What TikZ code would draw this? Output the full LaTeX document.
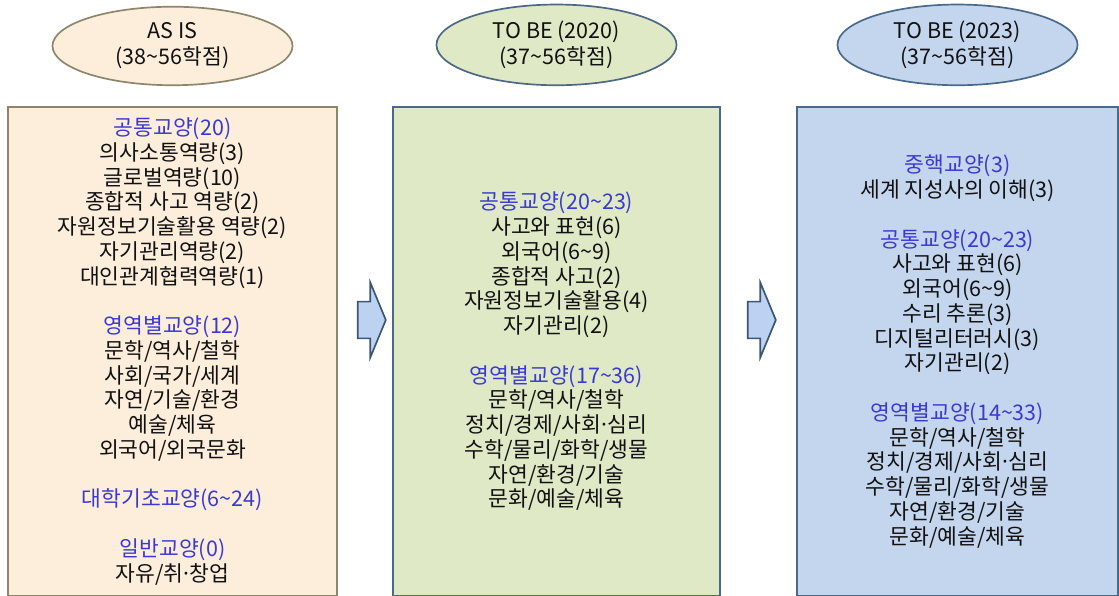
\documentclass[tikz,border=0pt]{standalone}
\usepackage{fontspec}
\newfontfamily\kr{Noto Sans CJK KR}
\usepackage{tikz}
\usetikzlibrary{shapes,arrows}
\usetikzlibrary{positioning, shapes.geometric, shapes.arrows}
\usepackage{xcolor}
\definecolor{peach}{HTML}{FDEEDC}
\definecolor{peachline}{HTML}{8C876A}
\definecolor{sage}{HTML}{DFE9C6}
\definecolor{sageline}{HTML}{4D6884}
\definecolor{sky}{HTML}{C4D6EE}
\definecolor{skyline}{HTML}{4A6A8C}
\definecolor{arrfill}{HTML}{BCD2F0}
\definecolor{arrline}{HTML}{3B5674}
\definecolor{hdblue}{HTML}{3A3AD0}
\definecolor{txt}{HTML}{111111}
\newcommand{\hd}[1]{\textcolor{hdblue}{#1}}
\newcommand{\tld}{\textasciitilde}
\newcommand{\md}{\hbox to 0.3em{\hss·\hss}}
\tikzset{box/.style={draw, line width=1.2pt, minimum height=12.225cm, align=center, text=txt,
		font=\kr\fontsize{15.3pt}{17.6pt}\selectfont},
	oval/.style={ellipse, draw, line width=1.2pt, minimum width=6cm, minimum height=1.95cm, align=center, text=txt,
		font=\kr\fontsize{15.3pt}{18.4pt}\selectfont}
}

\begin{document}
\begin{tikzpicture}[x=0.025cm,y=-0.025cm]
\tikzstyle{blockarrow} = [single arrow, draw=arrline, fill=arrfill, line width=1.2pt,
minimum height=0.7cm, inner xsep=0pt, inner ysep=0.4375cm,
single arrow head extend=0.475cm, single arrow tip angle=135]
\useasboundingbox (0,0) rectangle (1119,596);

\node [box, fill=peach, draw=peachline, minimum width=8.225cm] (B1) at (172.5,351.5) {
\hd{공통교양(20)}\\
의사소통역량(3)\\
글로벌역량(10)\\
종합적 사고 역량(2)\\
자원정보기술활용 역량(2)\\
자기관리역량(2)\\
대인관계협력역량(1)\\[\baselineskip]
\hd{영역별교양(12)}\\
문학/역사/철학\\
사회/국가/세계\\
자연/기술/환경\\
예술/체육\\
외국어/외국문화\\[\baselineskip]
\hd{대학기초교양(6\tld24)}\\[\baselineskip]
\hd{일반교양(0)}\\
자유/취\md 창업};

\node [box, fill=sage, draw=sageline, minimum width=8.175cm] (B2) at (556.5,351.5) {
\hd{공통교양(20\tld23)}\\
사고와 표현(6)\\
외국어(6\tld9)\\
종합적 사고(2)\\
자원정보기술활용(4)\\
자기관리(2)\\[\baselineskip]
\hd{영역별교양(17\tld36)}\\
문학/역사/철학\\
정치/경제/사회\md 심리\\
수학/물리/화학/생물\\
자연/환경/기술\\
문화/예술/체육};

\node [box, fill=sky, draw=skyline, minimum width=8.025cm] (B3) at (957.5,351.5) {
\hd{중핵교양(3)}\\
세계 지성사의 이해(3)\\[\baselineskip]
\hd{공통교양(20\tld23)}\\
사고와 표현(6)\\
외국어(6\tld9)\\
수리 추론(3)\\
디지털리터러시(3)\\
자기관리(2)\\[\baselineskip]
\hd{영역별교양(14\tld33)}\\
문학/역사/철학\\
정치/경제/사회\md 심리\\
수학/물리/화학/생물\\
자연/환경/기술\\
문화/예술/체육};

% ovals over the boxes
\node [oval, fill=peach, draw=peachline, above=0.5cm of B1] (O1) {AS IS\\(38\tld56학점)};
\node [oval, fill=sage, draw=sageline, above=0.5cm of B2] (O2) {TO BE (2020)\\(37\tld56학점)};
\node [oval, fill=sky, draw=skyline, above=0.5cm of B3] (O3) {TO BE (2023)\\(37\tld56학점)};

%Arrows
\node [blockarrow] (A1) at (368,320) {};
\node [blockarrow] (A2) at (758,320) {};
\end{tikzpicture}
\end{document}
